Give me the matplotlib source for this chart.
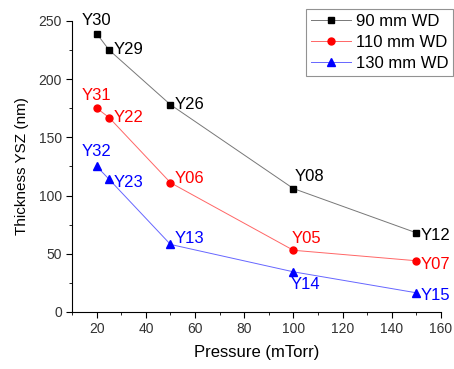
import matplotlib
matplotlib.use('Agg')
import matplotlib.pyplot as plt
from matplotlib.ticker import MultipleLocator

plt.rcParams['font.family'] = ['Liberation Sans', 'DejaVu Sans']

# data
pressure = [20, 25, 50, 100, 150]
wd90 = [239, 225, 178, 106, 68]
wd110 = [175, 167, 111, 53, 44]
wd130 = [125, 114, 58, 34.5, 16.5]
names90 = ['Y30', 'Y29', 'Y26', 'Y08', 'Y12']
names110 = ['Y31', 'Y22', 'Y06', 'Y05', 'Y07']
names130 = ['Y32', 'Y23', 'Y13', 'Y14', 'Y15']

fig = plt.figure(figsize=(4.54, 3.69), dpi=100)
ax = fig.add_axes([0.159, 0.1545, 0.812, 0.789])

l1, = ax.plot(pressure, wd90, color='#777777', lw=0.7, marker='s', ms=4.6,
              mfc='black', mec='black', label='90 mm WD')
l2, = ax.plot(pressure, wd110, color='#ff6666', lw=0.7, marker='o', ms=5,
              mfc='red', mec='red', label='110 mm WD')
l3, = ax.plot(pressure, wd130, color='#6666ff', lw=0.7, marker='^', ms=5.2,
              mfc='blue', mec='blue', label='130 mm WD')

# label offsets (points)
off90 = [(0, 4, 'center', 'bottom'), (3, 0, 'left', 'center'), (3, 0, 'left', 'center'),
         (1, 3, 'left', 'bottom'), (3, -2, 'left', 'center')]
off110 = [(0, 4, 'center', 'bottom'), (3, 0, 'left', 'center'), (3, 3, 'left', 'center'),
          (-1, 3, 'left', 'bottom'), (3, -3, 'left', 'center')]
off130 = [(0, 5, 'center', 'bottom'), (3, -2, 'left', 'center'), (3, 4, 'left', 'center'),
          (-2, -4, 'left', 'top'), (3, -2, 'left', 'center')]

for vals, names, offs, c in [(wd90, names90, off90, 'black'),
                             (wd110, names110, off110, 'red'),
                             (wd130, names130, off130, 'blue')]:
    for x, y, n, (dx, dy, ha, va) in zip(pressure, vals, names, offs):
        ax.annotate(n, (x, y), xytext=(dx, dy), textcoords='offset points',
                    ha=ha, va=va, color=c, fontsize=12)

ax.set_xlim(10, 160)
ax.set_ylim(0, 250)
ax.xaxis.set_major_locator(MultipleLocator(20))
ax.xaxis.set_minor_locator(MultipleLocator(10))
ax.yaxis.set_major_locator(MultipleLocator(50))
ax.yaxis.set_minor_locator(MultipleLocator(25))
ax.tick_params(which='both', direction='out', labelsize=10, colors='black')
ax.tick_params(which='major', length=4)
ax.tick_params(which='minor', length=2.5)
for t in ax.get_xticklabels() + ax.get_yticklabels():
    t.set_color('#333333')
ax.spines['top'].set_visible(False)
ax.spines['right'].set_visible(False)

ax.set_xlabel('Pressure (mTorr)', fontsize=12, labelpad=6)
ax.set_ylabel('Thickness YSZ (nm)', fontsize=11, labelpad=7)

leg = fig.legend(handles=[l1, l2, l3], loc='upper right',
                 bbox_to_anchor=(0.998, 0.976), borderaxespad=0, fontsize=12,
                 frameon=True, fancybox=False, edgecolor='#777777',
                 handlelength=2.4, handletextpad=0.3, borderpad=0.3,
                 labelspacing=0.35)
leg.get_frame().set_linewidth(0.8)

fig.savefig('out.png', dpi=100)
